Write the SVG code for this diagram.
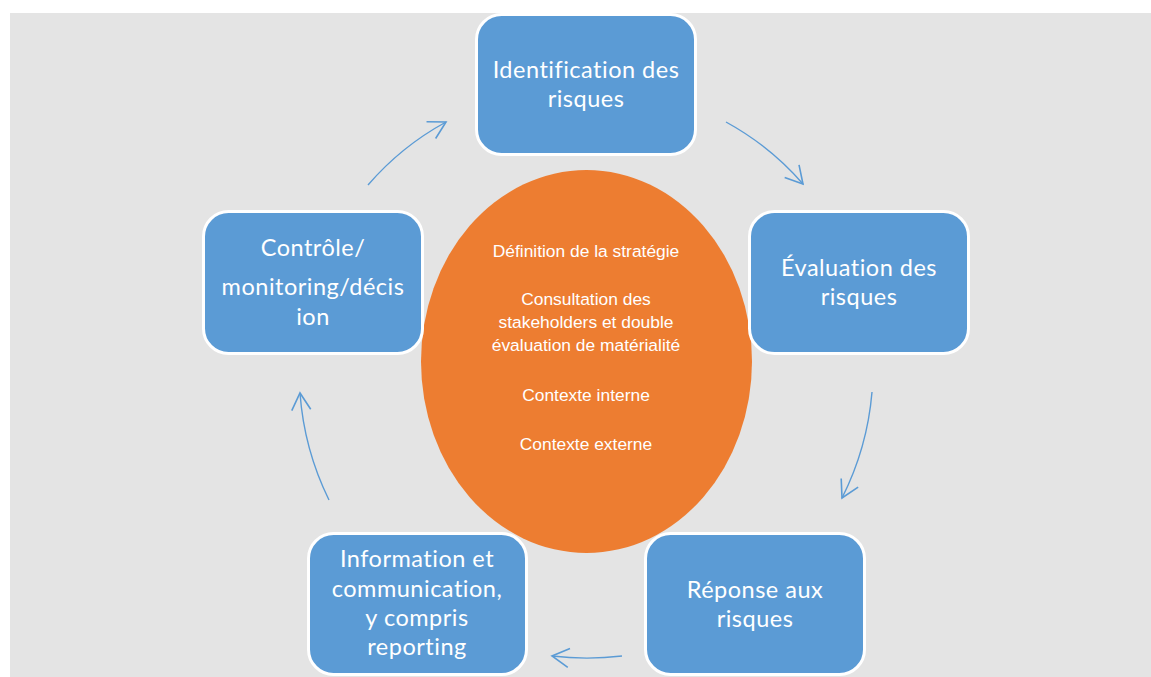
<svg xmlns="http://www.w3.org/2000/svg" width="1151" height="677" viewBox="0 0 1151 677">
  <defs>
    <style>
      .step { fill: #5b9bd5; stroke: #ffffff; stroke-width: 3; }
      .step-label { font-family: Lato, "Open Sans", sans-serif; font-size: 23.5px; letter-spacing: 0.5px; fill: #ffffff; text-anchor: middle; }
      .core { fill: #ed7d31; }
      .core-label { font-family: "Liberation Sans", Arial, sans-serif; font-size: 17.4px; fill: #ffffff; text-anchor: middle; }
      .flow { fill: none; stroke: #5b9bd5; stroke-width: 1.4; marker-end: url(#open-head); }
    </style>
    <marker id="open-head" markerUnits="userSpaceOnUse" viewBox="-20 -12 22 24" refX="0" refY="0" markerWidth="22" markerHeight="24" orient="auto">
      <path d="M-17,-9.5 L0,0 L-17,9.5" fill="none" stroke="#5b9bd5" stroke-width="1.6"/>
    </marker>
  </defs>

  <!-- canvas -->
  <rect x="0" y="0" width="1151" height="677" fill="#ffffff"/>
  <rect x="10" y="13" width="1141" height="664" fill="#e4e4e4"/>

  <!-- central context ellipse -->
  <g id="contexte">
    <ellipse class="core" cx="586.5" cy="361.5" rx="165.5" ry="191.5"/>
    <text class="core-label" x="586" y="257">Définition de la stratégie</text>
    <text class="core-label" x="586" y="305">Consultation des</text>
    <text class="core-label" x="586" y="328">stakeholders et double</text>
    <text class="core-label" x="586" y="351">évaluation de matérialité</text>
    <text class="core-label" x="586" y="401">Contexte interne</text>
    <text class="core-label" x="586" y="450">Contexte externe</text>
  </g>

  <!-- cycle connectors -->
  <g id="connectors">
    <path class="flow" d="M368,185 A280,280 0 0 1 446,122"/>
    <path class="flow" d="M726,122 A280,280 0 0 1 803,184"/>
    <path class="flow" d="M872,392 A288,288 0 0 1 842,498"/>
    <path class="flow" d="M622,656 A296,296 0 0 1 552,656"/>
    <path class="flow" d="M329,500 A290,290 0 0 1 300,393"/>
  </g>

  <g id="identification">
    <rect class="step" x="476.5" y="14.5" width="219" height="140" rx="25"/>
    <text class="step-label" x="586" y="78">Identification des</text>
    <text class="step-label" x="586" y="107">risques</text>
  </g>

  <g id="evaluation">
    <rect class="step" x="749.5" y="211.5" width="219" height="142" rx="25"/>
    <text class="step-label" x="859" y="276">Évaluation des</text>
    <text class="step-label" x="859" y="304.5">risques</text>
  </g>

  <g id="reponse">
    <rect class="step" x="645.5" y="533.5" width="219" height="141" rx="25"/>
    <text class="step-label" x="755" y="598">Réponse aux</text>
    <text class="step-label" x="755" y="627">risques</text>
  </g>

  <g id="information">
    <rect class="step" x="308.5" y="533.5" width="218" height="141" rx="25"/>
    <text class="step-label" x="417" y="567">Information et</text>
    <text class="step-label" x="417" y="597">communication,</text>
    <text class="step-label" x="417" y="626">y compris</text>
    <text class="step-label" x="417" y="655">reporting</text>
  </g>

  <g id="controle">
    <rect class="step" x="203.5" y="211.5" width="219" height="142" rx="25"/>
    <text class="step-label" x="313" y="256">Contrôle/</text>
    <text class="step-label" x="313" y="295">monitoring/décis</text>
    <text class="step-label" x="313" y="325">ion</text>
  </g>
</svg>
